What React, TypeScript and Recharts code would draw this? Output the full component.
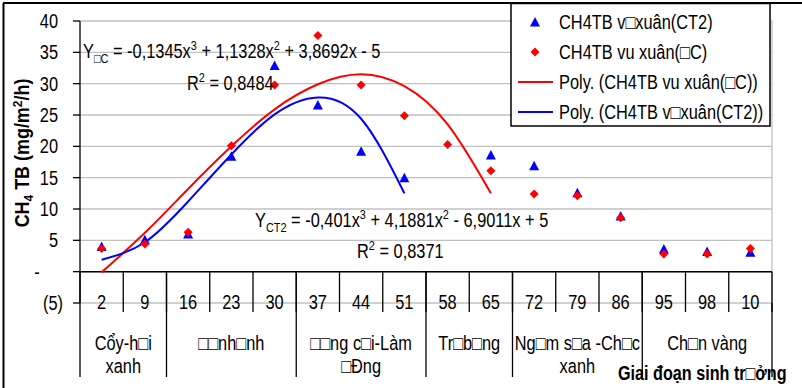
import React from 'react'
import {
  ComposedChart,
  Scatter,
  Line,
  XAxis,
  YAxis,
  CartesianGrid,
  ReferenceLine,
} from 'recharts'

// sampling days (last label is cut off in the original)
const days = ['2', '9', '16', '23', '30', '37', '44', '51', '58', '65', '72', '79', '86', '95', '98', '10']

// measured CH4 flux, mg/m2/h
const ct2Values = [4.0, 5.1, 6.0, 18.4, 32.9, 26.6, 19.2, 15.0, null, 18.6, 16.9, 12.6, 8.9, 3.6, 3.2, 3.1]
const dcValues = [3.7, 4.4, 6.3, 20.1, 29.8, 37.7, 29.8, 24.9, 20.3, 16.1, 12.4, 12.1, 8.6, 2.8, 2.8, 3.7]

// polynomial trend lines as drawn
const dcTrend = [-0.1, 6.2, 13.2, 20.0, 25.9, 29.9, 31.5, 29.6, 23.5, 12.5]
const ct2Trend = [1.9, 4.7, 11.2, 18.7, 25.1, 27.8, 24.4, 12.5]

const stageNames = [
  ['Cổy-h□i', 'xanh'],
  ['□□nh□nh'],
  ['□□ng c□i-Làm', '□Đng'],
  ['Tr□b□ng'],
  ['Ng□m s□a -Ch□c', 'xanh'],
  ['Ch□n vàng'],
]
const stageSpans = [2, 3, 3, 2, 3, 3]

const yTicks = [-5, 0, 5, 10, 15, 20, 25, 30, 35, 40]

const legendItems = [
  { label: 'CH4TB v□xuân(CT2)', color: '#0000ff', kind: 'triangle' },
  { label: 'CH4TB vu xuân(□C)', color: '#ff0000', kind: 'diamond' },
  { label: 'Poly. (CH4TB vu xuân(□C))', color: '#ff0000', kind: 'line' },
  { label: 'Poly. (CH4TB v□xuân(CT2))', color: '#0000ff', kind: 'line' },
]

const data = days.map((day, i) => ({
  day,
  ct2: ct2Values[i],
  dc: dcValues[i],
  dcTrend: i < dcTrend.length ? dcTrend[i] : null,
  ct2Trend: i < ct2Trend.length ? ct2Trend[i] : null,
}))

const FONT = "'Liberation Sans', Arial, sans-serif"
const FS = 19.5
const SX = 0.84 // original glyphs are narrow (Arial squeezed horizontally)
const ZERO_GAP = 31.3

// first index of every stage
const stageStarts = stageSpans.map((_, i) => stageSpans.slice(0, i).reduce((a, b) => a + b, 0))

function NText({ x, y, s = SX, rotate, children, ...rest }: any) {
  const t = `translate(${x} ${y})${rotate ? ` rotate(${rotate})` : ''} scale(${s} 1)`
  return (
    <text transform={t} fontFamily={FONT} fontSize={FS} fill="#000" {...rest}>
      {children}
    </text>
  )
}

function Triangle(props: any) {
  const { cx, cy, payload } = props
  if (payload == null || payload.ct2 == null || !isFinite(cy)) return <g />
  return <polygon points={`${cx - 5},${cy + 4.5} ${cx + 5},${cy + 4.5} ${cx},${cy - 5}`} fill="#0000ff" />
}

function Diamond(props: any) {
  const { cx, cy, payload } = props
  if (payload == null || payload.dc == null || !isFinite(cy)) return <g />
  return <polygon points={`${cx},${cy - 4.5} ${cx + 4.5},${cy} ${cx},${cy + 4.5} ${cx - 4.5},${cy}`} fill="#ff0000" />
}

function YTick(props: any) {
  const { x, y, payload } = props
  const v = payload.value
  let text = String(v)
  let tx = x
  let anchor = 'end'
  if (v === 0) {
    text = '-'
    tx = x - 21
    anchor = 'middle'
  } else if (v < 0) {
    text = `(${Math.abs(v)})`
    tx = x + 5
  }
  return (
    <NText x={tx} y={y} dy={7} textAnchor={anchor}>
      {text}
    </NText>
  )
}

function DayTick(props: any) {
  const { x, y, payload, index } = props
  const half = payload && payload.offset ? payload.offset : 692 / days.length / 2
  const i = payload && payload.index != null ? payload.index : index
  const zeroY = y - ZERO_GAP
  const stage = stageStarts.indexOf(i)
  return (
    <g>
      <NText x={x} y={y} dy={6} textAnchor="middle">
        {payload.value}
      </NText>
      <line x1={x + half} x2={x + half} y1={zeroY} y2={y + 9} stroke="#000" strokeWidth={1.3} />
      {stage >= 0 && (
        <g>
          <line x1={x - half} x2={x - half} y1={zeroY} y2={y + 74} stroke="#000" strokeWidth={1.3} />
          {stageNames[stage].map((line, k) => (
            <NText key={k} x={x - half + stageSpans[stage] * half} y={y + 47 + k * 23} textAnchor="middle">
              {line}
            </NText>
          ))}
        </g>
      )}
      {i === days.length - 1 && (
        <line x1={x + half} x2={x + half} y1={y} y2={y + 74} stroke="#000" strokeWidth={1.3} />
      )}
    </g>
  )
}

function Overlay() {
  return (
    <svg width={802} height={388} style={{ position: 'absolute', left: 0, top: 0, pointerEvents: 'none' }}>
      {/* outer frame */}
      <line x1={3} x2={802} y1={3} y2={3} stroke="#000" strokeWidth={2} />
      <line x1={3.5} x2={3.5} y1={3} y2={388} stroke="#000" strokeWidth={2} />

      {/* y axis title */}
      <NText x={29} y={153} rotate={-90} s={0.92} textAnchor="middle" fontWeight="bold">
        CH<tspan fontSize={13} dy={4}>4</tspan>
        <tspan dy={-4}> TB (mg/m</tspan>
        <tspan fontSize={13} dy={-7}>2</tspan>
        <tspan dy={7}>/h)</tspan>
      </NText>

      {/* trend equations */}
      <NText x={83} y={58}>
        Y<tspan fontSize={13} dy={5}>□C</tspan>
        <tspan dy={-5}> = -0,1345x</tspan>
        <tspan fontSize={13} dy={-8}>3</tspan>
        <tspan dy={8}> + 1,1328x</tspan>
        <tspan fontSize={13} dy={-8}>2</tspan>
        <tspan dy={8}> + 3,8692x - 5</tspan>
      </NText>
      <NText x={187} y={90}>
        R<tspan fontSize={13} dy={-8}>2</tspan>
        <tspan dy={8}> = 0,8484</tspan>
      </NText>
      <NText x={255} y={227}>
        Y<tspan fontSize={13} dy={5}>CT2</tspan>
        <tspan dy={-5}> = -0,401x</tspan>
        <tspan fontSize={13} dy={-8}>3</tspan>
        <tspan dy={8}> + 4,1881x</tspan>
        <tspan fontSize={13} dy={-8}>2</tspan>
        <tspan dy={8}> - 6,9011x + 5</tspan>
      </NText>
      <NText x={357} y={258}>
        R<tspan fontSize={13} dy={-8}>2</tspan>
        <tspan dy={8}> = 0,8371</tspan>
      </NText>

      {/* x axis title */}
      <NText x={618} y={380} s={0.83} fontWeight="bold">
        Giai đoạn sinh tr□ởng
      </NText>

      {/* legend */}
      <rect x={511} y={3.5} width={259} height={122.5} fill="#fff" stroke="#000" strokeWidth={1.5} />
      {legendItems.map((item, k) => {
        const cy = 22 + k * 30
        return (
          <g key={item.label}>
            {item.kind === 'triangle' && (
              <polygon points={`${530},${cy + 4.5} ${540},${cy + 4.5} ${535},${cy - 5}`} fill={item.color} />
            )}
            {item.kind === 'diamond' && (
              <polygon points={`${535},${cy - 4.5} ${539.5},${cy} ${535},${cy + 4.5} ${530.5},${cy}`} fill={item.color} />
            )}
            {item.kind === 'line' && <line x1={518} x2={553} y1={cy} y2={cy} stroke={item.color} strokeWidth={2} />}
            <NText x={559} y={cy} dy={7}>
              {item.label}
            </NText>
          </g>
        )
      })}
    </svg>
  )
}

export default function App() {
  return (
    <div style={{ position: 'absolute', left: 0, top: 0, width: 802, height: 388, background: '#fff' }}>
      <ComposedChart width={802} height={388} data={data} margin={{ top: 21, right: 30, left: 0, bottom: 0 }}>
        <CartesianGrid
          stroke="#c0c0c0"
          strokeWidth={1.3}
          verticalCoordinatesGenerator={({ offset }: any) => [offset.left + offset.width]}
        />
        <XAxis
          dataKey="day"
          type="category"
          scale="band"
          interval={0}
          axisLine={false}
          tickLine={false}
          tickSize={0}
          tickMargin={0}
          height={85}
          tick={<DayTick />}
        />
        <YAxis
          domain={[-5, 40]}
          ticks={yTicks}
          interval={0}
          width={80}
          tickSize={7}
          tickMargin={15}
          axisLine={{ stroke: '#000', strokeWidth: 1.3 }}
          tickLine={{ stroke: '#000', strokeWidth: 1.3 }}
          tick={<YTick />}
        />
        <ReferenceLine y={0} stroke="#000" strokeWidth={1.5} />
        <Scatter dataKey="ct2" fill="#0000ff" shape={<Triangle />} isAnimationActive={false} />
        <Scatter dataKey="dc" fill="#ff0000" shape={<Diamond />} isAnimationActive={false} />
        <Line
          dataKey="dcTrend"
          type="natural"
          stroke="#ff0000"
          strokeWidth={2}
          dot={false}
          activeDot={false}
          isAnimationActive={false}
        />
        <Line
          dataKey="ct2Trend"
          type="natural"
          stroke="#0000ff"
          strokeWidth={2}
          dot={false}
          activeDot={false}
          isAnimationActive={false}
        />
      </ComposedChart>
      <Overlay />
    </div>
  )
}
